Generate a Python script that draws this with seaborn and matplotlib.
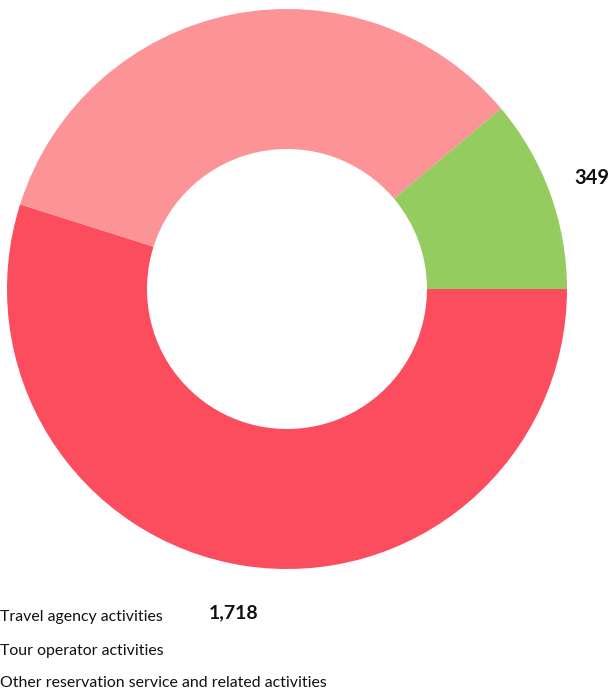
import matplotlib
matplotlib.use("Agg")
import matplotlib.pyplot as plt
import seaborn as sns

categories = ["Travel agency activities", "Tour operator activities",
              "Other reservation service and related activities"]
values = [1718, 1063, 349]
value_labels = ["1,718", "", "349"]
colors = ["#FB4D5D", "#FB9397", "#94CC5F"]

sns.set_theme(style="white")
plt.rcParams["font.family"] = ["Lato", "DejaVu Sans"]

W, H = 610, 691
fig = plt.figure(figsize=(W / 100, H / 100), dpi=100)
cx, cy, R = 287, 289, 280
ax = fig.add_axes([(cx - R) / W, (H - cy - R) / H, 2 * R / W, 2 * R / H])
palette = sns.color_palette(colors)
wedges, _ = ax.pie(values, colors=palette, startangle=0, counterclock=False,
                   radius=1, wedgeprops=dict(width=0.5, linewidth=0))
ax.set_xlim(-1, 1)
ax.set_ylim(-1, 1)
ax.set_aspect("equal")
ax.axis("off")

# value labels
ax.text(-0.19, -1.157, value_labels[0], fontsize=14, fontweight="bold",
        ha="center", va="center", color="#111111", clip_on=False)
ax.text(1.09, 0.396, value_labels[2], fontsize=14.5, fontweight="bold",
        ha="center", va="center", color="#111111", clip_on=False)

# legend (text only)
ys = [617, 651, 683]
for cat, y in zip(categories, ys):
    fig.text(0.0, 1 - y / H, cat, fontsize=11.4, ha="left", va="center", color="#111111")

fig.savefig("out.png", dpi=100)
